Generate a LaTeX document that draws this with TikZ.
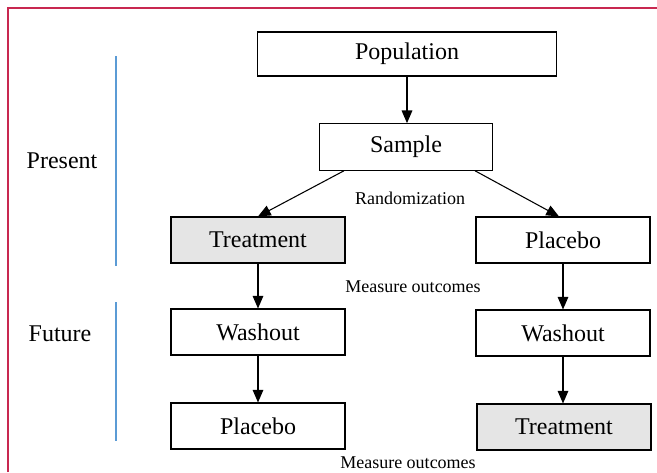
\documentclass[tikz,border=0pt]{standalone}
\usepackage{fontspec}
\setmainfont{Liberation Serif}
\usetikzlibrary{arrows.meta,calc}
\definecolor{framered}{RGB}{200,40,80}
\definecolor{lineblue}{RGB}{91,155,213}
\begin{document}
\begin{tikzpicture}[x=0.75pt,y=-0.75pt]
    \tikzset{box/.style={draw=black,line width=0.8pt,inner sep=0pt,
        minimum width=130.5pt,minimum height=34.5pt,
        font=\fontsize{18}{21}\selectfont},
      greybox/.style={box,fill=black!10},
      arr/.style={line width=0.8pt,-{Triangle[width=8pt,length=9.5pt]}},
      note/.style={font=\fontsize{13.5}{16}\selectfont}}
    \useasboundingbox (0,0) rectangle (657,472);
    % frame and time bars
    \draw [framered,line width=1.5pt] (8,472) -- (8,8) -- (657,8);
    \draw [lineblue,line width=0.9pt] (116,56) -- (116,266);
    \draw [lineblue,line width=0.9pt] (116,302) -- (116,441);
    \node [font=\fontsize{18}{21}\selectfont] (present) at (62,161) {Present};
    \node [font=\fontsize{18}{21}\selectfont] (future) at (60,334) {Future};
    % boxes
    \node [box,minimum width=224pt,minimum height=33pt] (pop) at (407,54) {Population};
    \node [box,minimum width=130pt,minimum height=35pt] (sample) at (406,147) {Sample};
    \node [greybox] (treatA) at (258,240) {Treatment};
    \node [box] (placA) at (563,240) {Placebo};
    \node [box] (washA) at (258,332) {Washout};
    \node [box] (washB) at (563,333) {Washout};
    \node [box] (placB) at (258,426) {Placebo};
    \node [greybox] (treatB) at (564,427) {Treatment};
    % labels
    \node [note] (rand) at (410,198) {Randomization};
    \node [note] (meas1) at (413,287) {Measure outcomes};
    \node [note] (meas2) at (408,463) {Measure outcomes};
    % connectors
    \draw [arr] (pop.south) -- (pop.south |- sample.north);
    \draw [arr] ($(sample.south west)+(25,0)$) -- (treatA.north);
    \draw [arr] ($(sample.south east)+(-18,0)$) -- ($(placA.north)+(-4,0)$);
    \draw [arr] (treatA) -- (washA);
    \draw [arr] (washA) -- (placB);
    \draw [arr] (placA) -- (washB);
    \draw [arr] (washB) -- (washB |- treatB.north);
\end{tikzpicture}
\end{document}
